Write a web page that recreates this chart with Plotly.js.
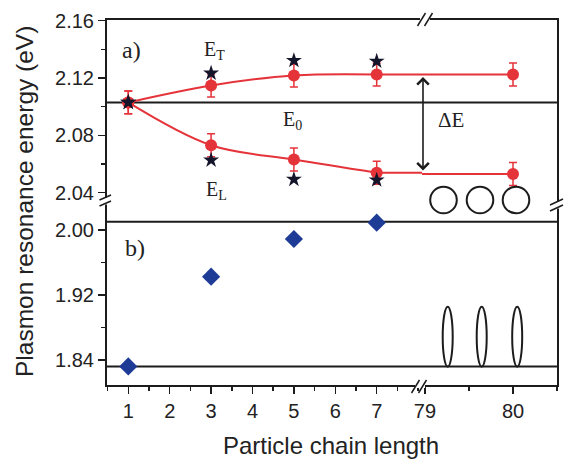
<!DOCTYPE html>
<html><head><meta charset="utf-8">
<script src="https://cdn.plot.ly/plotly-3.0.1.min.js"></script>
<style>html,body{margin:0;padding:0;background:#fff;}#chart{width:565px;height:462px;}</style>
</head><body><div id="chart"></div>
<script>
// ---------------- data ----------------
const chainLength = [1, 3, 5, 7];
const chainLengthLong = [80];
const eT_measured = [2.103, 2.1148, 2.1218, 2.1225];
const eT_long = [2.1225];
const eL_measured = [2.103, 2.0731, 2.0631, 2.0539];
const eL_long = [2.0530];
const errMeasured = [0.008, 0.008, 0.008, 0.008];
const errLong = [0.008];
const eT_calc = [2.103, 2.1234, 2.1322, 2.1317];
const eL_calc = [2.103, 2.0627, 2.0493, 2.0488];
const shiftB = [1.832, 1.9425, 1.9889, 2.009];
const E0 = 2.103;
const bLines = [2.0100, 1.832];
const xTicksLeft = [1, 2, 3, 4, 5, 6, 7];
const xTicksRight = [79, 80];
const yTicksUpper = [2.04, 2.08, 2.12, 2.16];
const yTicksLower = [1.84, 1.92, 2.00];

// ---------------- styling helpers ----------------
const RED = '#e5333a', INK = '#1c1c1c', STAR = '#14142a', BLUE = '#1e3c96';
const P = {l: 107, t: 20, w: 450, h: 365};
const fx = px => (px - P.l) / P.w;
const fy = py => (P.t + P.h - py) / P.h;
const xSplit = fx(422), ySplit = fy(203);

const redMarkers = {size: 12, color: RED};
const redErr = arr => ({type: 'data', array: arr, color: RED, thickness: 1.5, width: 4});

const traces = [
  {x: chainLength, y: eT_measured, xaxis: 'x', yaxis: 'y', mode: 'lines+markers',
   line: {shape: 'spline', color: RED, width: 2}, marker: redMarkers, error_y: redErr(errMeasured)},
  {x: chainLength, y: eL_measured, xaxis: 'x', yaxis: 'y', mode: 'lines+markers',
   line: {shape: 'spline', color: RED, width: 2}, marker: redMarkers, error_y: redErr(errMeasured)},
  {x: [chainLength[3], chainLengthLong[0]], y: [eT_measured[3], eT_long[0]], xaxis: 'x', yaxis: 'y', mode: 'lines', line: {color: RED, width: 2}},
  {x: [chainLength[3], chainLengthLong[0]], y: [eL_measured[3], eL_long[0]], xaxis: 'x', yaxis: 'y', mode: 'lines', line: {color: RED, width: 2}},
  {x: [chainLength[3], chainLengthLong[0]], y: [eT_measured[3], eT_long[0]], xaxis: 'x2', yaxis: 'y', mode: 'lines', line: {color: RED, width: 2}},
  {x: [chainLength[3], chainLengthLong[0]], y: [eL_measured[3], eL_long[0]], xaxis: 'x2', yaxis: 'y', mode: 'lines', line: {color: RED, width: 2}},
  {x: chainLengthLong, y: eT_long, xaxis: 'x2', yaxis: 'y', mode: 'markers', marker: redMarkers, error_y: redErr(errLong)},
  {x: chainLengthLong, y: eL_long, xaxis: 'x2', yaxis: 'y', mode: 'markers', marker: redMarkers, error_y: redErr(errLong)},
  {x: chainLength, y: eT_calc, xaxis: 'x', yaxis: 'y', mode: 'markers', marker: {symbol: 'star', size: 12, color: STAR}},
  {x: chainLength, y: eL_calc, xaxis: 'x', yaxis: 'y', mode: 'markers', marker: {symbol: 'star', size: 12, color: STAR}},
  {x: chainLength, y: shiftB, xaxis: 'x', yaxis: 'y2', mode: 'markers', marker: {symbol: 'diamond', size: 14, color: BLUE}}
];

const tickFont = {family: 'Liberation Sans, Arial, sans-serif', size: 20, color: '#222'};
const baseAx = {showgrid: false, zeroline: false, showline: true, linecolor: INK, linewidth: 2,
  tickcolor: INK, tickwidth: 1.5, tickfont: tickFont, fixedrange: true};

const layout = {
  width: 565, height: 462, showlegend: false,
  paper_bgcolor: '#fff', plot_bgcolor: 'rgba(0,0,0,0)',
  margin: {l: P.l, r: 565 - P.l - P.w, t: P.t, b: 462 - P.t - P.h},
  xaxis: Object.assign({}, baseAx, {domain: [0, xSplit], range: [0.486, 8.094], anchor: 'y2',
    tickmode: 'array', tickvals: xTicksLeft, ticks: 'outside', ticklen: 7,
    minor: {tick0: 0.5, dtick: 0.5, ticks: 'outside', ticklen: 4, tickcolor: INK, tickwidth: 1.5}}),
  xaxis2: Object.assign({}, baseAx, {domain: [xSplit, 1], range: [78.966, 80.5], anchor: 'y2',
    tickmode: 'array', tickvals: xTicksRight, ticks: 'outside', ticklen: 7,
    minor: {tick0: 79, dtick: 0.5, ticks: 'outside', ticklen: 4, tickcolor: INK, tickwidth: 1.5}}),
  xaxis3: Object.assign({}, baseAx, {overlaying: 'x', anchor: 'y', side: 'top', range: [0.486, 8.094],
    tickmode: 'linear', tick0: 0.5, dtick: 0.5, ticks: 'inside', ticklen: 5, showticklabels: false}),
  xaxis4: Object.assign({}, baseAx, {overlaying: 'x2', anchor: 'y', side: 'top', range: [78.966, 80.5],
    tickmode: 'linear', tick0: 79, dtick: 0.5, ticks: 'inside', ticklen: 5, showticklabels: false}),
  yaxis: Object.assign({}, baseAx, {domain: [ySplit, 1], range: [2.0328, 2.1605], anchor: 'x',
    tickmode: 'array', tickvals: yTicksUpper, tickformat: '.2f', ticks: 'outside', ticklen: 7,
    minor: {tick0: 2.0, dtick: 0.02, ticks: 'outside', ticklen: 4, tickcolor: INK, tickwidth: 1.5}}),
  yaxis2: Object.assign({}, baseAx, {domain: [0, ySplit], range: [1.8092, 2.0332], anchor: 'x',
    tickmode: 'array', tickvals: yTicksLower, tickformat: '.2f', ticks: 'outside', ticklen: 7,
    minor: {tick0: 1.84, dtick: 0.04, ticks: 'outside', ticklen: 4, tickcolor: INK, tickwidth: 1.5}}),
  yaxis3: Object.assign({}, baseAx, {overlaying: 'y', anchor: 'x2', side: 'right', range: [2.0328, 2.1605],
    tickmode: 'linear', tick0: 2.0, dtick: 0.02, ticks: 'inside', ticklen: 6, showticklabels: false}),
  yaxis4: Object.assign({}, baseAx, {overlaying: 'y2', anchor: 'x2', side: 'right', range: [1.8092, 2.0332],
    tickmode: 'linear', tick0: 1.84, dtick: 0.04, ticks: 'inside', ticklen: 6, showticklabels: false}),
  shapes: [],
  annotations: []
};

// reference lines
layout.shapes.push({type: 'line', xref: 'paper', yref: 'y', x0: 0, x1: 1, y0: E0, y1: E0, line: {color: INK, width: 2}, layer: 'below'});
bLines.forEach(v => layout.shapes.push({type: 'line', xref: 'paper', yref: 'y2', x0: 0, x1: 1, y0: v, y1: v, line: {color: INK, width: 2}, layer: 'below'}));

// plot frame
layout.shapes.push({type: 'rect', xref: 'paper', yref: 'paper', x0: fx(106), x1: fx(558), y0: fy(386), y1: fy(19),
  line: {color: INK, width: 2}, fillcolor: 'rgba(0,0,0,0)'});

// particle sketches
[443.5, 480, 516].forEach(cx => layout.shapes.push({type: 'circle', xref: 'paper', yref: 'paper',
  x0: fx(cx - 13.3), x1: fx(cx + 13.3), y0: fy(200 + 13.3), y1: fy(200 - 13.3), line: {color: INK, width: 2}}));
[447.7, 481.7, 517.2].forEach(cx => layout.shapes.push({type: 'circle', xref: 'paper', yref: 'paper',
  x0: fx(cx - 5), x1: fx(cx + 5), y0: fy(336.7 + 30), y1: fy(336.7 - 30), line: {color: INK, width: 2}}));

// axis break marks
function seg(x0, y0, x1, y1, color, w) {
  layout.shapes.push({type: 'line', xref: 'paper', yref: 'paper', x0: fx(x0), y0: fy(y0), x1: fx(x1), y1: fy(y1), line: {color: color, width: w}});
}
// left
seg(106, 197.5, 106, 204.5, '#fff', 4);
seg(99.5, 200, 111, 195, INK, 1.5); seg(99.5, 206, 111, 201, INK, 1.5);
// right
seg(558, 201.5, 558, 208.5, '#fff', 4);
seg(550, 205, 563, 199, INK, 1.5); seg(550, 211, 563, 205, INK, 1.5);
// bottom
seg(415, 386, 425, 386, '#fff', 4);
seg(411.5, 393, 419.5, 380, INK, 1.5); seg(418.5, 393, 426.5, 380, INK, 1.5);
// top
seg(420, 19, 430, 19, '#fff', 4);
seg(417.5, 26, 425.5, 13, INK, 1.5); seg(424.5, 26, 432.5, 13, INK, 1.5);

// texts
const serif = 'Liberation Serif, Times New Roman, serif';
const sans = 'Liberation Sans, Arial, sans-serif';
function txt(t, px, py, size, fam, extra) {
  layout.annotations.push(Object.assign({text: t, xref: 'paper', yref: 'paper', x: fx(px), y: fy(py),
    xanchor: 'center', yanchor: 'middle', showarrow: false, font: {family: fam, size: size, color: '#222'}}, extra || {}));
}
txt('a)', 131, 50, 24, serif);
txt('b)', 135, 248, 24, serif);
txt('E<sub>T</sub>', 214, 51, 20, serif);
txt('E<sub>L</sub>', 216, 190, 20, serif);
txt('E<sub>0</sub>', 292, 121, 20, serif);
txt('ΔE', 451, 120, 21, serif);
txt('Plasmon resonance energy (eV)', 25, 202, 24.5, sans, {textangle: -90});
txt('Particle chain length', 331, 445, 24, sans);

// ΔE double arrow
layout.annotations.push({text: '', xref: 'paper', yref: 'paper', x: fx(423), y: fy(77),
  ax: 0, ay: 95, showarrow: true, arrowside: 'end+start', arrowhead: 4, startarrowhead: 4,
  arrowsize: 1.4, startarrowsize: 1.4, arrowwidth: 1.6, arrowcolor: INK});

Plotly.newPlot('chart', traces, layout, {staticPlot: true, displayModeBar: false});
</script>
</body></html>
